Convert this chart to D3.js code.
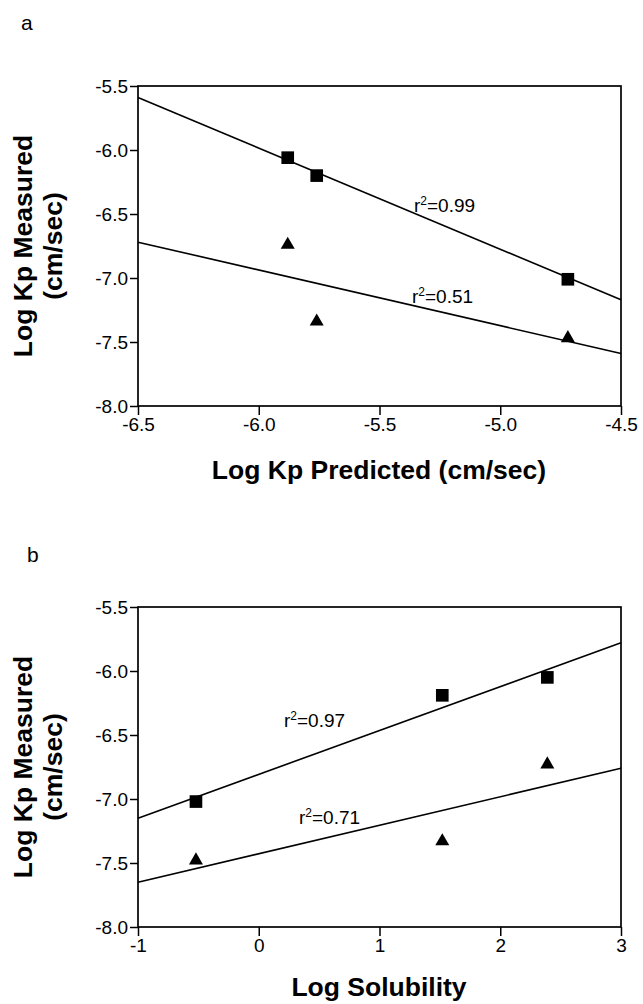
<!DOCTYPE html>
<html>
<head>
<meta charset="utf-8">
<script src="https://d3js.org/d3.v7.min.js"></script>
<style>
  body { margin: 0; background: #fff; }
  text { font-family: "Liberation Sans", Arial, sans-serif; fill: #000; }
</style>
</head>
<body>
<div id="chart"></div>
<script>
// panel a : measured vs predicted
var aPredicted = [-5.88, -5.76, -4.72];
var aSquares = [-6.06, -6.20, -7.01];
var aTriangles = [-6.74, -7.34, -7.47];
var aSquareFit = [[-6.5, -5.59], [-4.5, -7.17]];
var aTriangleFit = [[-6.5, -6.72], [-4.5, -7.59]];
var aXTicks = [-6.5, -6.0, -5.5, -5.0, -4.5];

// panel b : measured vs solubility
var bSolubility = [-0.52, 1.52, 2.39];
var bSquares = [-7.02, -6.19, -6.05];
var bTriangles = [-7.48, -7.33, -6.73];
var bSquareFit = [[-1, -7.15], [3, -5.78]];
var bTriangleFit = [[-1, -7.65], [3, -6.76]];
var bXTicks = [-1, 0, 1, 2, 3];

var yTicks = [-5.5, -6.0, -6.5, -7.0, -7.5, -8.0];

var svg = d3.select("#chart")
  .append("svg")
    .attr("width", 643)
    .attr("height", 1004);

function drawPanel(opt) {
  var left = 138, right = 621, top = opt.top, bottom = opt.top + 320;

  var g = svg.append("g");

  var x = d3.scaleLinear().domain(opt.xDomain).range([left, right]);
  var y = d3.scaleLinear().domain([-8.0, -5.5]).range([bottom, top]);

  // panel letter
  g.append("text")
    .attr("x", opt.letterX)
    .attr("y", opt.letterY)
    .attr("font-size", 21)
    .text(opt.letter);

  // frame
  g.append("rect")
    .attr("x", left).attr("y", top)
    .attr("width", right - left).attr("height", bottom - top)
    .attr("fill", "none")
    .attr("stroke", "#000")
    .attr("stroke-width", 1.7);

  // y axis
  var ya = g.append("g")
    .attr("transform", "translate(" + left + ",0)")
    .call(d3.axisLeft(y).tickValues(yTicks).tickSize(8).tickPadding(2));
  ya.attr("font-size", 19).attr("font-family", "Liberation Sans, Arial, sans-serif");
  ya.select(".domain").remove();
  ya.selectAll("line").attr("stroke-width", 1.5);
  ya.selectAll("text")
    .attr("font-size", 19)
    .text(function(d) { return d3.format(".1f")(d).replace("−", "-"); });

  // x axis
  var xa = g.append("g")
    .attr("transform", "translate(0," + bottom + ")")
    .call(d3.axisBottom(x).tickValues(opt.xTicks).tickSize(9).tickPadding(3));
  xa.attr("font-size", 19).attr("font-family", "Liberation Sans, Arial, sans-serif");
  xa.select(".domain").remove();
  xa.selectAll("line").attr("stroke-width", 1.5);
  xa.selectAll("text")
    .attr("font-size", 19)
    .text(function(d) { return opt.xFormat(d).replace("−", "-"); });

  // axis titles
  g.append("text")
    .attr("x", 379)
    .attr("y", bottom + opt.titleOffset)
    .attr("text-anchor", "middle")
    .attr("font-size", 26.5)
    .attr("font-weight", "bold")
    .text(opt.xTitle);

  var ymid = (top + bottom) / 2;
  g.append("text")
    .attr("transform", "translate(32," + ymid + ") rotate(-90)")
    .attr("text-anchor", "middle")
    .attr("font-size", 26.5)
    .attr("font-weight", "bold")
    .text("Log Kp Measured");
  g.append("text")
    .attr("transform", "translate(62," + ymid + ") rotate(-90)")
    .attr("text-anchor", "middle")
    .attr("font-size", 26.5)
    .attr("font-weight", "bold")
    .text("(cm/sec)");

  // fit lines
  var line = d3.line().x(function(d) { return x(d[0]); }).y(function(d) { return y(d[1]); });
  [opt.squareFit, opt.triangleFit].forEach(function(f) {
    g.append("path")
      .datum(f)
      .attr("fill", "none")
      .attr("stroke", "#000")
      .attr("stroke-width", 1.6)
      .attr("d", line);
  });

  // squares
  g.selectAll(".sq")
    .data(opt.xs.map(function(v, i) { return [v, opt.squares[i]]; }))
    .enter().append("path")
      .attr("transform", function(d) { return "translate(" + x(d[0]) + "," + y(d[1]) + ")"; })
      .attr("d", d3.symbol().type(d3.symbolSquare).size(160))
      .attr("fill", "#000");

  // triangles
  g.selectAll(".tri")
    .data(opt.xs.map(function(v, i) { return [v, opt.triangles[i]]; }))
    .enter().append("path")
      .attr("transform", function(d) { return "translate(" + x(d[0]) + "," + y(d[1]) + ")"; })
      .attr("d", d3.symbol().type(d3.symbolTriangle).size(85))
      .attr("fill", "#000");

  // r2 labels
  opt.labels.forEach(function(l) {
    var t = g.append("text")
      .attr("x", l.x)
      .attr("y", l.y)
      .attr("font-size", 19);
    t.append("tspan").text("r");
    t.append("tspan").attr("dy", -7).attr("font-size", 12).text("2");
    t.append("tspan").attr("dy", 7).text("=" + l.v);
  });
}

drawPanel({
  top: 86,
  xDomain: [-6.5, -4.5],
  xTicks: aXTicks,
  xFormat: d3.format(".1f"),
  xTitle: "Log Kp Predicted (cm/sec)",
  titleOffset: 73,
  xs: aPredicted,
  squares: aSquares,
  triangles: aTriangles,
  squareFit: aSquareFit,
  triangleFit: aTriangleFit,
  letter: "a", letterX: 21, letterY: 30,
  labels: [{x: 414, y: 212, v: "0.99"}, {x: 412, y: 303, v: "0.51"}]
});

drawPanel({
  top: 607,
  xDomain: [-1, 3],
  xTicks: bXTicks,
  xFormat: d3.format("d"),
  xTitle: "Log Solubility",
  titleOffset: 69,
  xs: bSolubility,
  squares: bSquares,
  triangles: bTriangles,
  squareFit: bSquareFit,
  triangleFit: bTriangleFit,
  letter: "b", letterX: 27, letterY: 562,
  labels: [{x: 284, y: 727, v: "0.97"}, {x: 299, y: 824, v: "0.71"}]
});
</script>
</body>
</html>
